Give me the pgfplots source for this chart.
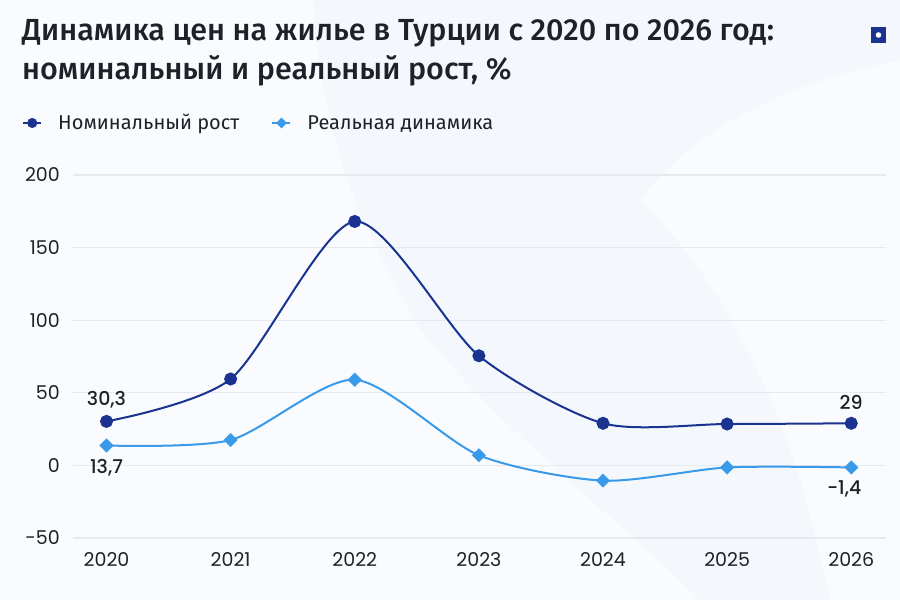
\documentclass[border=0pt]{standalone}
\usepackage{pgfplots}
\pgfplotsset{compat=1.18}
\usepackage{fontspec}
\setmainfont{Fira Sans}
\newfontfamily\titlefont{Fira Sans Medium}
\newfontfamily\numfont{Poppins}
\newfontfamily\lblfont{Poppins Medium}
\definecolor{navy}{HTML}{1A3391}
\definecolor{lblue}{HTML}{3A9AEA}
\definecolor{txt}{HTML}{1E2228}
\definecolor{bgA}{HTML}{F4F8FC}
\definecolor{bgB}{HTML}{F9FBFE}
\definecolor{gridc}{HTML}{E6EAEF}
\begin{document}
\begin{tikzpicture}[x=1pt,y=1pt]
% background
\fill[bgB] (0,0) rectangle (900,600);
\fill[bgA] (313,600) .. controls (320,470) and (360,370) .. (421,270)
  .. controls (500,170) and (620,80) .. (700,0) -- (830,0)
  .. controls (790,200) and (720,320) .. (640,400) .. controls (700,480) and (800,520) .. (900,540)
  -- (900,600) -- cycle;
% title
\node[anchor=base west, inner sep=0, font=\titlefont\fontsize{30.5}{30.5}\selectfont, text=txt] at (22,559) {Динамика цен на жилье в Турции с 2020 по 2026 год:};
\node[anchor=base west, inner sep=0, font=\titlefont\fontsize{30.5}{30.5}\selectfont, text=txt] at (22,520) {номинальный и реальный рост, \%};
% icon
\fill[navy] (871,557) rectangle (886,573);
\fill[white] (878.5,565) circle (2.8);
\begin{axis}[
  at={(73pt,62pt)}, anchor=south west,
  scale only axis, width=813pt, height=363pt,
  xmin=-0.27, xmax=6.28, ymin=-50, ymax=200,
  ytick={-50,0,50,100,150,200},
  xtick={0,1,2,3,4,5,6},
  xticklabels={2020,2021,2022,2023,2024,2025,2026},
  axis line style={draw=none},
  tick style={draw=none},
  ymajorgrids,
  grid style={gridc, line width=1.2pt},
  /pgf/number format/assume math mode=true,
  tick label style={font=\numfont\fontsize{19}{19}\selectfont, text=txt, inner sep=0pt},
  yticklabel style={anchor=east, xshift=-13pt},
  xticklabel style={anchor=north, yshift=-14pt},
  legend style={at={(-0.0627,1.1433)}, anchor=west, draw=none, fill=none,
    inner sep=0pt, font=\fontsize{20}{20}\selectfont, text=txt,
    legend columns=2,
    /tikz/every odd column/.append style={column sep=14pt},
    /tikz/every even column/.append style={column sep=30pt}},
  legend cell align=left,
  clip=false,
]
\addplot[navy, line width=2pt, smooth, tension=0.45, mark=*, mark size=5.5pt,
  legend image code/.code={\draw[navy, line width=2pt] (0pt,0pt) -- (18pt,0pt); \fill[navy] (9pt,0pt) circle (4pt);}]
  coordinates {(0,30.3) (1,59.5) (2,168) (3,75.5) (4,29) (5,28.5) (6,29)};
\addlegendentry{Номинальный рост}
\addplot[lblue, line width=2pt, smooth, tension=0.45, mark=square*, mark size=4pt, mark options={rotate=45},
  legend image code/.code={\draw[lblue, line width=2pt] (0pt,0pt) -- (18pt,0pt); \fill[lblue] (9pt,4pt) -- (13pt,0pt) -- (9pt,-4pt) -- (5pt,0pt) -- cycle;}]
  coordinates {(0,13.7) (1,17.5) (2,59) (3,7) (4,-10.5) (5,-1.4) (6,-1.4)};
\addlegendentry{Реальная динамика}
\node[font=\lblfont\fontsize{19}{19}\selectfont, text=txt] at (axis cs:0,30.3) [yshift=22pt] {30,3};
\node[font=\lblfont\fontsize{19}{19}\selectfont, text=txt] at (axis cs:0,13.7) [yshift=-22pt] {13,7};
\node[font=\lblfont\fontsize{19}{19}\selectfont, text=txt] at (axis cs:6,29) [yshift=21pt] {29};
\node[font=\lblfont\fontsize{19}{19}\selectfont, text=txt] at (axis cs:6,-1.4) [yshift=-21pt, xshift=-7pt] {-1,4};
\end{axis}
\end{tikzpicture}
\end{document}
